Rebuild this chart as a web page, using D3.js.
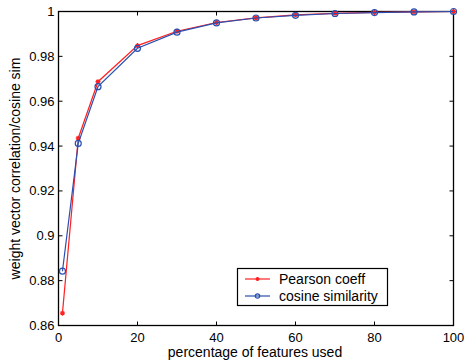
<!DOCTYPE html>
<html>
<head>
<meta charset="utf-8">
<script src="https://cdn.jsdelivr.net/npm/d3@7"></script>
<style>
  body { margin: 0; background: #fff; }
  text { font-family: "Liberation Sans", Arial, sans-serif; fill: #000; }
</style>
</head>
<body>
<svg width="465" height="362"></svg>
<script>
// values
var pct = [1, 5, 10, 20, 30, 40, 50, 60, 70, 80, 90, 100];
var pearson = [0.8655, 0.9435, 0.9687, 0.9848, 0.9912, 0.9951, 0.9972, 0.9985, 0.9992, 0.9996, 0.9998, 1.0];
var cosine = [0.8842, 0.9412, 0.9665, 0.9836, 0.9908, 0.9949, 0.9971, 0.9983, 0.9991, 0.9995, 0.9998, 1.0];
var xTicks = [0, 20, 40, 60, 80, 100];
var yTicks = [0.86, 0.88, 0.9, 0.92, 0.94, 0.96, 0.98, 1];
var names = ["Pearson coeff", "cosine similarity"];

var svg = d3.select("svg"),
    pLeft = 58.5, pRight = 453.5, pTop = 11.5, pBottom = 325.5;

var x = d3.scaleLinear().domain([0, 100]).range([pLeft, pRight]);
var y = d3.scaleLinear().domain([0.86, 1]).range([pBottom, pTop]);

// frame
svg.append("rect")
    .attr("x", pLeft).attr("y", pTop)
    .attr("width", pRight - pLeft).attr("height", pBottom - pTop)
    .attr("fill", "none").attr("stroke", "#000").attr("stroke-width", 1.3);

var tickLen = 4;
// ticks on all four sides, pointing in
var gx = svg.append("g");
xTicks.forEach(function(t) {
    gx.append("line").attr("x1", x(t)).attr("x2", x(t)).attr("y1", pBottom).attr("y2", pBottom - tickLen).attr("stroke", "#000");
    gx.append("line").attr("x1", x(t)).attr("x2", x(t)).attr("y1", pTop).attr("y2", pTop + tickLen).attr("stroke", "#000");
    gx.append("text").attr("x", x(t)).attr("y", pBottom + 16)
        .attr("text-anchor", "middle").attr("font-size", 13).text(t);
});
var gy = svg.append("g");
yTicks.forEach(function(t) {
    gy.append("line").attr("x1", pLeft).attr("x2", pLeft + tickLen).attr("y1", y(t)).attr("y2", y(t)).attr("stroke", "#000");
    gy.append("line").attr("x1", pRight).attr("x2", pRight - tickLen).attr("y1", y(t)).attr("y2", y(t)).attr("stroke", "#000");
    gy.append("text").attr("x", pLeft - 4).attr("y", y(t) + 4.5)
        .attr("text-anchor", "end").attr("font-size", 13).text(t);
});

svg.append("text").attr("x", 255).attr("y", 357)
    .attr("text-anchor", "middle").attr("font-size", 14).text("percentage of features used");
svg.append("text").attr("transform", "translate(20," + ((pTop + pBottom) / 2) + ") rotate(-90)")
    .attr("text-anchor", "middle").attr("font-size", 14).text("weight vector correlation/cosine sim");

var line = d3.line().x(function(d) { return x(d[0]); }).y(function(d) { return y(d[1]); });
var redData = pct.map(function(p, i) { return [p, pearson[i]]; });
var blueData = pct.map(function(p, i) { return [p, cosine[i]]; });

function star(g, cx, cy, s, col) {
    g.append("path")
        .attr("d", "M" + (cx - s) + "," + cy + "H" + (cx + s) + "M" + cx + "," + (cy - s) + "V" + (cy + s) +
            "M" + (cx - s * 0.7) + "," + (cy - s * 0.7) + "L" + (cx + s * 0.7) + "," + (cy + s * 0.7) +
            "M" + (cx - s * 0.7) + "," + (cy + s * 0.7) + "L" + (cx + s * 0.7) + "," + (cy - s * 0.7))
        .attr("stroke", col).attr("stroke-width", 1.2).attr("fill", "none");
}

var red = "#ff2020", blue = "#2a4fb0";

svg.append("path").datum(redData).attr("d", line)
    .attr("fill", "none").attr("stroke", red).attr("stroke-width", 1.2);
var rm = svg.append("g");
redData.forEach(function(d) { star(rm, x(d[0]), y(d[1]), 2.5, red); });

svg.append("path").datum(blueData).attr("d", line)
    .attr("fill", "none").attr("stroke", blue).attr("stroke-width", 1.2);
svg.append("g").selectAll("circle").data(blueData).enter().append("circle")
    .attr("cx", function(d) { return x(d[0]); })
    .attr("cy", function(d) { return y(d[1]); })
    .attr("r", 3).attr("fill", "none").attr("stroke", blue).attr("stroke-width", 1.2);

// legend
var lg = svg.append("g");
lg.append("rect").attr("x", 237.5).attr("y", 268.5).attr("width", 150).attr("height", 37)
    .attr("fill", "#fff").attr("stroke", "#000").attr("stroke-width", 1.2);
lg.append("line").attr("x1", 245).attr("x2", 270).attr("y1", 279).attr("y2", 279).attr("stroke", red).attr("stroke-width", 1.2);
star(lg, 257.5, 279, 2, red);
lg.append("line").attr("x1", 245).attr("x2", 270).attr("y1", 296).attr("y2", 296).attr("stroke", blue).attr("stroke-width", 1.2);
lg.append("circle").attr("cx", 257.5).attr("cy", 296).attr("r", 2.2).attr("fill", "none").attr("stroke", blue).attr("stroke-width", 1.2);
lg.append("text").attr("x", 279).attr("y", 283.5).attr("font-size", 14).text(names[0]);
lg.append("text").attr("x", 279).attr("y", 300.5).attr("font-size", 14).text(names[1]);
</script>
</body>
</html>
